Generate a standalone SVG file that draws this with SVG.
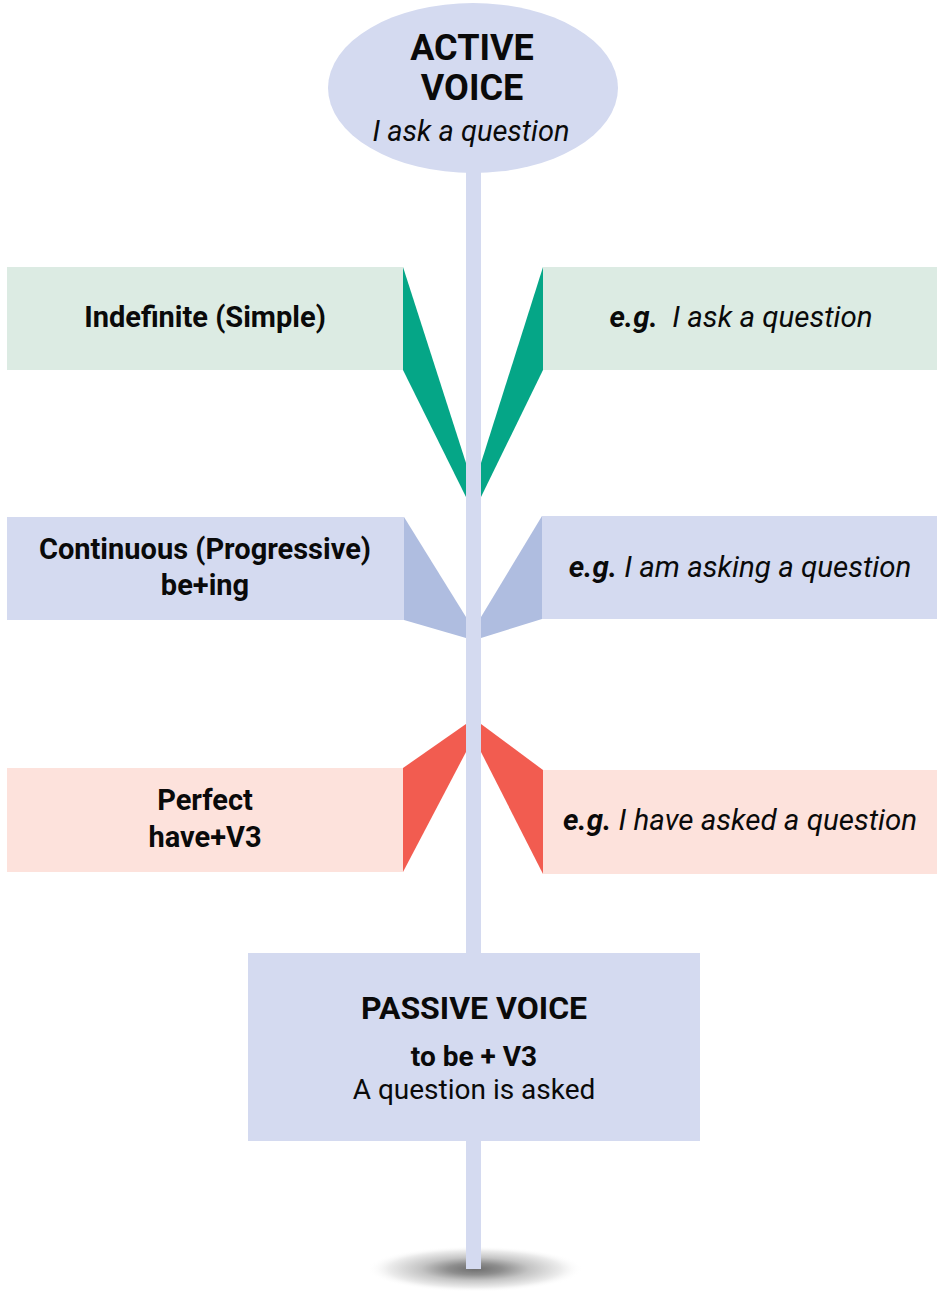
<svg xmlns="http://www.w3.org/2000/svg" width="937" height="1291" viewBox="0 0 937 1291">
<defs>
<radialGradient id="shadow" cx="0.5" cy="0.5" r="0.5">
<stop offset="0" stop-color="#6e6e6e"/>
<stop offset="0.25" stop-color="#8e8e8e"/>
<stop offset="0.5" stop-color="#c4c4c4"/>
<stop offset="0.8" stop-color="#ececec"/>
<stop offset="1" stop-color="#ffffff" stop-opacity="0"/>
</radialGradient>
<style>
text{font-family:Roboto,"Liberation Sans",sans-serif;fill:#0a0a0a;text-anchor:middle}
.b{font-weight:bold}
.i{font-style:italic}
.lav{fill:#d4daf0}
.grn{fill:#dcebe3}
.pnk{fill:#fde2dc}
</style>
</defs>
<ellipse cx="475" cy="1269" rx="108" ry="23" fill="url(#shadow)"/>
<g id="connectors">
<rect x="466" y="150" width="15" height="1119" class="lav"/>
<polygon points="403,267 466,463 466,497 403,370" fill="#05a687"/>
<polygon points="543,267 481,463 481,497 543,370" fill="#05a687"/>
<polygon points="404,517 466,617 466,638 404,620" fill="#afbde0"/>
<polygon points="542,516 481,617 481,638 542,619" fill="#afbde0"/>
<polygon points="403,768 466,724 466,752 403,872" fill="#f25c50"/>
<polygon points="543,770 481,724 481,752 543,874" fill="#f25c50"/>
</g>
<g id="active">
<ellipse cx="473" cy="88" rx="145" ry="85" class="lav"/>
<text x="472" y="60" class="b" font-size="36">ACTIVE</text>
<text x="472" y="100" class="b" font-size="36">VOICE</text>
<text x="471" y="141" class="i" font-size="29">I ask a question</text>
</g>
<g id="indefinite">
<rect x="7" y="267" width="396" height="103" class="grn"/>
<text x="205" y="327" class="b" font-size="29">Indefinite (Simple)</text>
</g>
<g id="indefinite-eg">
<rect x="543" y="267" width="394" height="103" class="grn"/>
<text x="741" y="327" class="i" font-size="29.5"><tspan class="b">e.g.</tspan>&#160; I ask a question</text>
</g>
<g id="continuous">
<rect x="7" y="517" width="397" height="103" class="lav"/>
<text x="205" y="559" class="b" font-size="29">Continuous (Progressive)</text>
<text x="205" y="595" class="b" font-size="29">be+ing</text>
</g>
<g id="continuous-eg">
<rect x="542" y="516" width="395" height="103" class="lav"/>
<text x="740" y="577" class="i" font-size="29.5"><tspan class="b">e.g.</tspan> I am asking a question</text>
</g>
<g id="perfect">
<rect x="7" y="768" width="396" height="104" class="pnk"/>
<text x="205" y="810" class="b" font-size="29">Perfect</text>
<text x="205" y="847" class="b" font-size="29">have+V3</text>
</g>
<g id="perfect-eg">
<rect x="543" y="770" width="394" height="104" class="pnk"/>
<text x="740" y="830" class="i" font-size="29.5"><tspan class="b">e.g.</tspan> I have asked a question</text>
</g>
<g id="passive">
<rect x="248" y="953" width="452" height="188" class="lav"/>
<text x="474" y="1019" class="b" font-size="32">PASSIVE VOICE</text>
<text x="474" y="1066" class="b" font-size="28">to be + V3</text>
<text x="474" y="1099" font-size="28">A question is asked</text>
</g>
</svg>
